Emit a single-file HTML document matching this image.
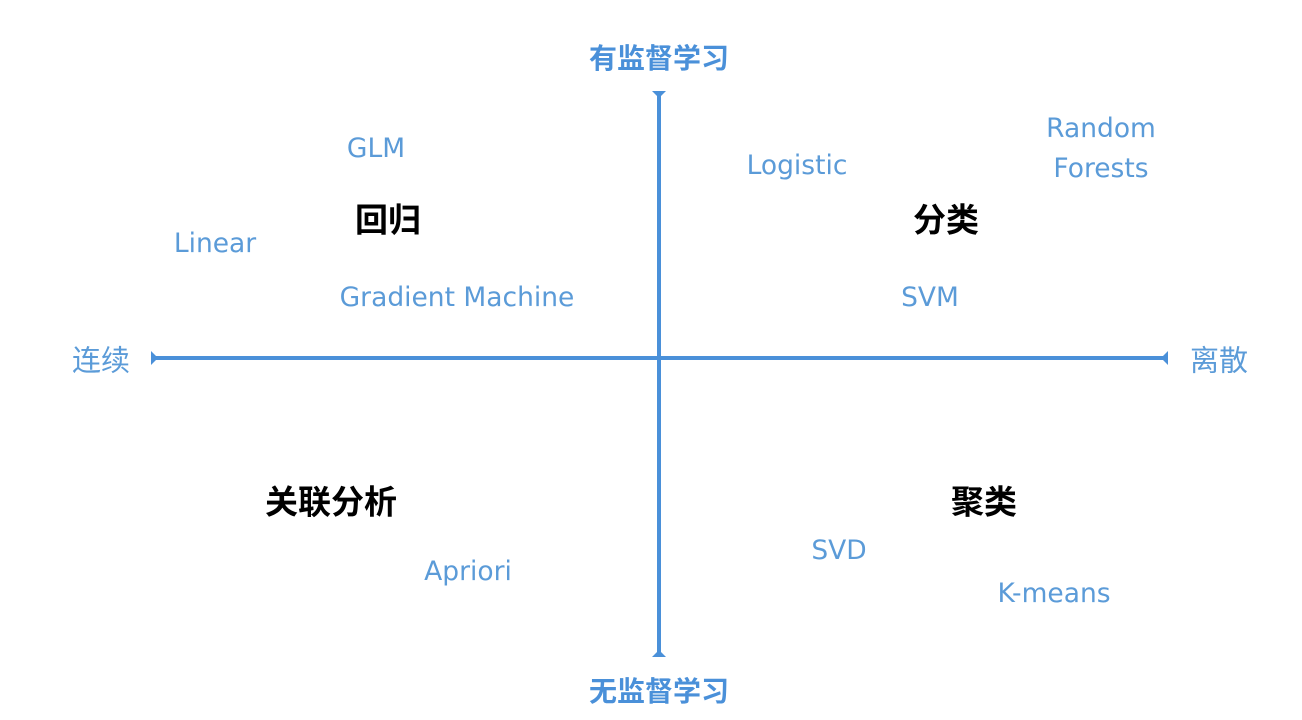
<!DOCTYPE html>
<html><head><meta charset="utf-8"><style>
body{margin:0;width:1302px;height:720px;background:#fff;position:relative;overflow:hidden;font-family:"DejaVu Sans","Noto Sans CJK SC",sans-serif}
.t{position:absolute;white-space:nowrap;line-height:1;transform:translate(-50%,-50%)}
.b{color:#5b9bd8;font-size:26.5px}
.c{color:#5b9bd8;font-size:29px;font-family:"Noto Sans CJK SC",sans-serif}
.k{color:#000;font-size:33px;font-weight:bold;font-family:"Noto Sans CJK SC",sans-serif}
.h{color:#4a90d9;font-size:28px;font-weight:bold;font-family:"Noto Sans CJK SC",sans-serif}
</style></head><body>
<svg width="1302" height="720" style="position:absolute;left:0;top:0">
<g stroke="#4a90d9" stroke-width="4" fill="#4a90d9">
<line x1="659" y1="92" x2="659" y2="656"/>
<line x1="152" y1="358" x2="1167" y2="358"/>
</g>
<g fill="#4a90d9">
<path d="M652 91 L666 91 L659 98 Z"/>
<path d="M652 657 L666 657 L659 650 Z"/>
<path d="M151 351 L151 365 L158 358 Z"/>
<path d="M1168 351 L1168 365 L1161 358 Z"/>
</g>
</svg>
<div class="t h" style="left:659px;top:57px">有监督学习</div>
<div class="t h" style="left:659px;top:690px">无监督学习</div>
<div class="t c" style="left:101px;top:359px">连续</div>
<div class="t c" style="left:1219px;top:359px">离散</div>
<div class="t b" style="left:376px;top:149px">GLM</div>
<div class="t k" style="left:388px;top:218px">回归</div>
<div class="t b" style="left:215px;top:244px">Linear</div>
<div class="t b" style="left:457px;top:298px">Gradient Machine</div>
<div class="t b" style="left:797px;top:166px">Logistic</div>
<div class="t b" style="left:1101px;top:129px">Random</div>
<div class="t b" style="left:1101px;top:169px">Forests</div>
<div class="t k" style="left:946px;top:218px">分类</div>
<div class="t b" style="left:930px;top:298px">SVM</div>
<div class="t k" style="left:331px;top:500px">关联分析</div>
<div class="t b" style="left:468px;top:572px">Apriori</div>
<div class="t k" style="left:984px;top:500px">聚类</div>
<div class="t b" style="left:839px;top:551px">SVD</div>
<div class="t b" style="left:1054px;top:594px">K-means</div>
</body></html>
